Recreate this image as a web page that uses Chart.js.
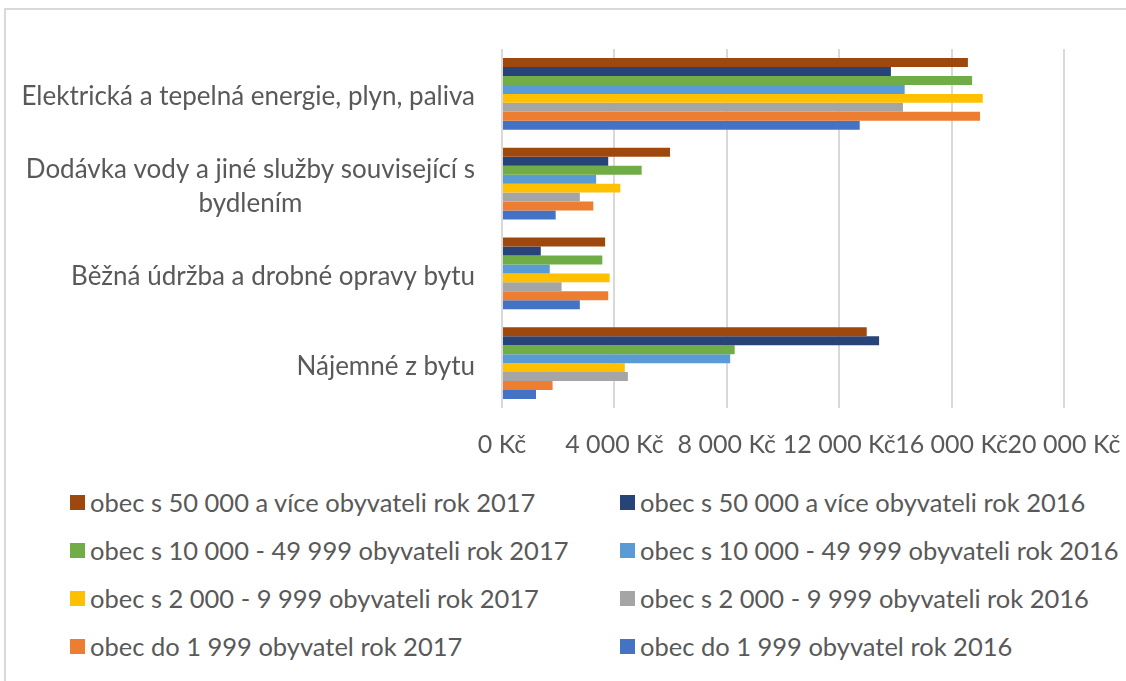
<!DOCTYPE html>
<html lang="cs">
<head>
<meta charset="utf-8">
<title>Výdaje na bydlení</title>
<script src="https://cdn.jsdelivr.net/npm/chart.js@4/dist/chart.umd.min.js"></script>
<style>
  html, body { margin: 0; padding: 0; background: #fff; overflow: hidden; }
  body { width: 1126px; height: 681px; position: relative; font-family: Lato, "Noto Sans", sans-serif; }
  .frame { position: absolute; left: 4px; top: 8px; width: 1122px; height: 673px; box-sizing: border-box; border-left: 2px solid #d9d9d9; border-top: 2px solid #d9d9d9; }
  #chart { position: absolute; left: 0; top: 0; }
  #legend { position: absolute; left: 0; top: 478px; width: 1126px; }
  .legend-item { position: absolute; display: flex; align-items: center; height: 48px; color: #595959; font-size: 25.5px; white-space: nowrap; }
  .legend-box { width: 15px; height: 15px; margin-right: 5px; flex: none; }
</style>
</head>
<body>
<div class="frame"></div>
<canvas id="chart" width="1126" height="470"></canvas>
<div id="legend"></div>
<script>
const categories = [
  "Elektrická a tepelná energie, plyn, paliva",
  ["Dodávka vody a jiné služby související s", "bydlením"],
  "Běžná údržba a drobné opravy bytu",
  "Nájemné z bytu",
];

const seriesNames = [
  "obec s 50 000 a více obyvateli rok 2017",
  "obec s 50 000 a více obyvateli rok 2016",
  "obec s 10 000 - 49 999 obyvateli rok 2017",
  "obec s 10 000 - 49 999 obyvateli rok 2016",
  "obec s 2 000 - 9 999 obyvateli rok 2017",
  "obec s 2 000 - 9 999 obyvateli rok 2016",
  "obec do 1 999 obyvatel rok 2017",
  "obec do 1 999 obyvatel rok 2016",
];

// values per series, in category order (Kč)
const big2017 = [16580, 5980, 3670, 12980];
const big2016 = [13840, 3780, 1380, 13420];
const mid2017 = [16730, 4970, 3570, 8280];
const mid2016 = [14330, 3350, 1700, 8120];
const small2017 = [17110, 4210, 3830, 4370];
const small2016 = [14270, 2770, 2120, 4480];
const tiny2017 = [17010, 3250, 3780, 1800];
const tiny2016 = [12730, 1910, 2770, 1210];

const seriesValues = [big2017, big2016, mid2017, mid2016, small2017, small2016, tiny2017, tiny2016];

const seriesColors = ["#9E480E", "#264478", "#70AD47", "#5B9BD5", "#FFC000", "#A5A5A5", "#ED7D31", "#4472C4"];

const xTicks = [0, 4000, 8000, 12000, 16000, 20000];

const textColor = "#595959";
const fontFamily = "Lato, 'Noto Sans', sans-serif";

function formatKc(value) {
  return String(value).replace(/\B(?=(\d{3})+(?!\d))/g, " ") + " Kč";
}

// y labels: right-aligned block, lines centred inside the block (like Excel)
const yLabelPlugin = {
  id: "yLabels",
  afterDraw(chart) {
    const ctx = chart.ctx;
    const yScale = chart.scales.y;
    const right = chart.chartArea.left - 27;
    const lineH = 34;
    ctx.save();
    ctx.font = `26px ${fontFamily}`;
    ctx.fillStyle = textColor;
    ctx.textAlign = "center";
    ctx.textBaseline = "middle";
    chart.data.labels.forEach((label, i) => {
      const lines = Array.isArray(label) ? label : [label];
      const w = Math.max(...lines.map((l) => ctx.measureText(l).width));
      const cx = right - w / 2;
      const y0 = yScale.getPixelForTick(i) + 3 - ((lines.length - 1) * lineH) / 2;
      lines.forEach((l, j) => ctx.fillText(l, cx, y0 + j * lineH));
    });
    ctx.restore();
  },
};

const ctx = document.getElementById("chart").getContext("2d");
const chart = new Chart(ctx, {
  type: "bar",
  data: {
    labels: categories,
    datasets: seriesNames.map((name, i) => ({
      label: name,
      data: seriesValues[i],
      backgroundColor: seriesColors[i],
      borderWidth: 0,
      categoryPercentage: 0.8,
      barPercentage: 1.0,
    })),
  },
  options: {
    indexAxis: "y",
    responsive: false,
    animation: false,
    layout: { padding: { top: 49, right: 62, bottom: 0, left: 5 } },
    plugins: {
      legend: { display: false },
      tooltip: { enabled: false },
    },
    scales: {
      x: {
        min: 0,
        max: 20000,
        afterBuildTicks(scale) {
          scale.ticks = xTicks.map((v) => ({ value: v }));
        },
        afterFit(scale) {
          scale.height = 62;
          // end labels may hang over the edges, as in the original
          scale.paddingLeft = 0;
          scale.paddingRight = 0;
        },
        grid: { color: "#d9d9d9", lineWidth: 2, drawTicks: false },
        border: { display: false },
        ticks: {
          autoSkip: false,
          maxRotation: 0,
          padding: 22,
          color: textColor,
          font: { family: fontFamily, size: 25 },
          callback: (v) => formatKc(v),
        },
      },
      y: {
        grid: { display: false },
        border: { display: false },
        ticks: { display: false },
        afterFit(scale) {
          scale.width = 497;
        },
      },
    },
  },
  plugins: [yLabelPlugin],
});

// two-column legend, same order as the datasets
const legendDiv = document.getElementById("legend");
legendDiv.innerHTML = chart.data.datasets
  .map((ds, i) => {
    const left = i % 2 === 0 ? 70 : 620;
    const top = Math.floor(i / 2) * 48;
    return `
    <div class="legend-item" style="left:${left}px;top:${top}px">
      <span class="legend-box" style="background:${ds.backgroundColor}"></span>
      <span>${ds.label}</span>
    </div>`;
  })
  .join("");
</script>
</body>
</html>
